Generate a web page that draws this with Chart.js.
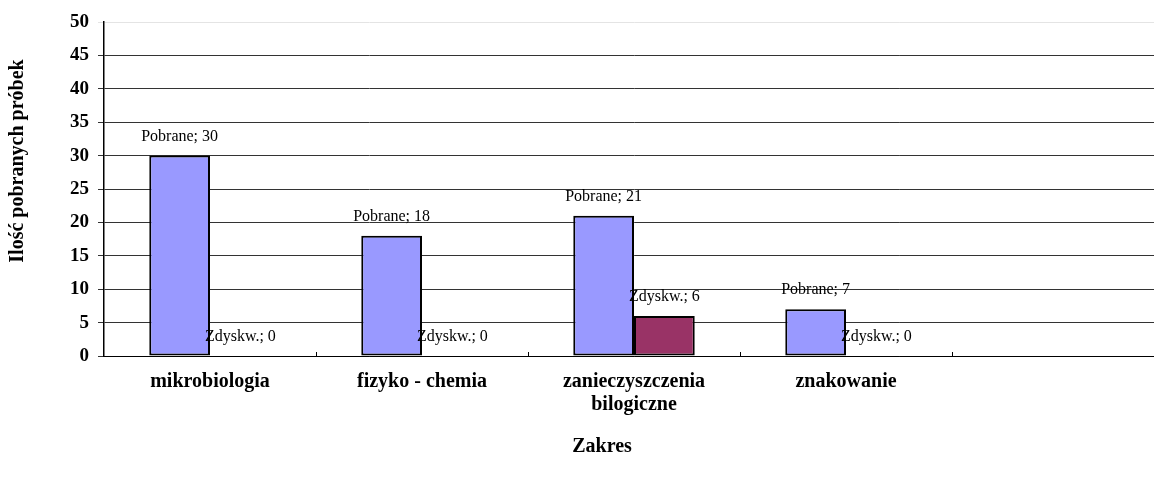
<!DOCTYPE html>
<html>
<head>
<meta charset="utf-8">
<script src="https://cdn.jsdelivr.net/npm/chart.js@4.4.1/dist/chart.umd.min.js"></script>
<style>
  html, body { margin: 0; padding: 0; background: #fff; overflow: hidden; }
  .wrap { width: 1166px; height: 479px; }
</style>
</head>
<body>
<div class="wrap"><canvas id="chart" width="1166" height="479"></canvas></div>
<script>
const categories = ['mikrobiologia', 'fizyko - chemia', ['zanieczyszczenia', 'bilogiczne'], 'znakowanie', ''];
const pobrane = [30, 18, 21, 7, null];
const zdyskw = [0, 0, 6, 0, null];
const yTitle = 'Ilość pobranych próbek';
const xTitle = 'Zakres';

const serif = "'Liberation Serif', 'Times New Roman', serif";

// value labels above each bar, "Seria; wartość"
const barLabels = {
  id: 'barLabels',
  afterDatasetsDraw(chart) {
    const ctx = chart.ctx;
    ctx.save();
    ctx.font = '16px ' + serif;
    ctx.fillStyle = '#000';
    ctx.textAlign = 'center';
    ctx.textBaseline = 'middle';
    chart.data.datasets.forEach((ds, i) => {
      chart.getDatasetMeta(i).data.forEach((bar, j) => {
        const v = ds.data[j];
        if (v === null) return;
        ctx.fillText(ds.label + '; ' + v, bar.x, bar.y - 19);
      });
    });
    ctx.restore();
  }
};

// axis titles + small inner tick marks on the category axis
const extras = {
  id: 'extras',
  afterDraw(chart) {
    const ctx = chart.ctx;
    const x = chart.scales.x;
    const area = chart.chartArea;
    ctx.save();
    ctx.strokeStyle = '#000';
    ctx.lineWidth = 1;
    const n = categories.length;
    for (let i = 1; i <= n; i++) {
      const px = Math.round(x.left + i * (x.right - x.left) / n) + 0.5;
      ctx.beginPath();
      ctx.moveTo(px, area.bottom);
      ctx.lineTo(px, area.bottom - 4);
      ctx.stroke();
    }
    ctx.fillStyle = '#000';
    ctx.font = 'bold 20px ' + serif;
    ctx.textAlign = 'center';
    ctx.textBaseline = 'middle';
    ctx.fillText(xTitle, 602, 447);
    ctx.translate(18, 161);
    ctx.rotate(-Math.PI / 2);
    ctx.fillText(yTitle, 0, 0);
    ctx.restore();
  }
};

new Chart(document.getElementById('chart'), {
  type: 'bar',
  data: {
    labels: categories,
    datasets: [{
      label: 'Pobrane',
      data: pobrane,
      backgroundColor: '#9999FF',
      borderColor: '#000',
      borderWidth: 2,
      borderSkipped: false
    }, {
      label: 'Zdyskw.',
      data: zdyskw,
      backgroundColor: '#993366',
      borderColor: '#000',
      borderWidth: 2,
      borderSkipped: false
    }]
  },
  options: {
    responsive: false,
    animation: false,
    layout: { padding: { left: 0, right: 2, top: 22, bottom: 0 } },
    datasets: { bar: { barPercentage: 1, categoryPercentage: 0.573 } },
    plugins: {
      legend: { display: false },
      tooltip: { enabled: false }
    },
    scales: {
      x: {
        grid: { display: false },
        border: { color: '#000', width: 1 },
        ticks: {
          color: '#000',
          font: { family: serif, size: 20, weight: 'bold', lineHeight: 1.15 },
          padding: 6,
          maxRotation: 0,
          autoSkip: false
        },
        afterFit(scale) { scale.height = 123; }
      },
      y: {
        min: 0,
        max: 50,
        ticks: {
          stepSize: 5,
          color: '#000',
          font: { family: serif, size: 19, weight: 'bold' },
          padding: 9
        },
        grid: {
          color: (c) => (c.tick && c.tick.value === 50 ? '#e4e4e4' : '#333'),
          lineWidth: 1,
          tickLength: 6
        },
        border: { color: '#000', width: 1.5 },
        afterFit(scale) { scale.width = 104; }
      }
    }
  },
  plugins: [barLabels, extras]
});
</script>
</body>
</html>
